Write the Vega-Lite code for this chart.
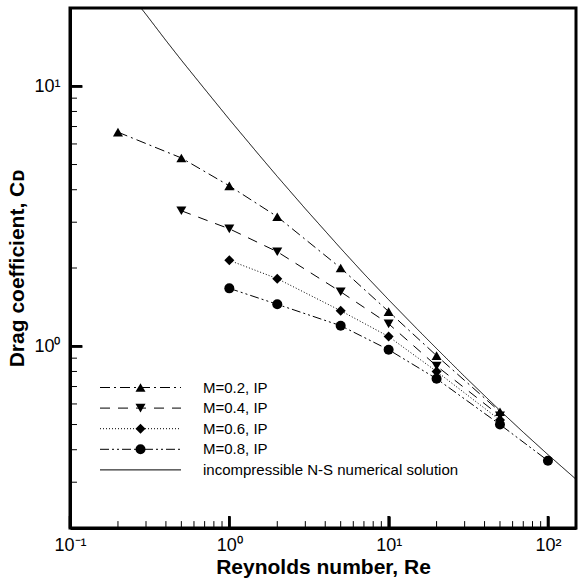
{
  "$schema": "https://vega.github.io/schema/vega-lite/v6.json",
  "width": 506,
  "height": 520,
  "autosize": {"type": "none"},
  "padding": {"left": 70, "top": 8, "right": 2, "bottom": 50},
  "background": "white",
  "config": {
    "view": {"stroke": "black", "strokeWidth": 3},
    "font": "Liberation Sans",
    "axis": {
      "grid": false,
      "domainColor": "black",
      "domainWidth": 3,
      "tickColor": "black",
      "labelColor": "black",
      "titleColor": "black",
      "labelFont": "Liberation Sans",
      "titleFont": "Liberation Sans",
      "labelFontSize": 18,
      "titleFontSize": 21,
      "titleFontWeight": "bold",
      "labelOverlap": false,
      "labelFlush": false
    }
  },
  "datasets": {
    "xticksMajor": [{"v": 0.1}, {"v": 1}, {"v": 10}, {"v": 100}],
    "xticksMinor": [{"v": 0.2}, {"v": 0.3}, {"v": 0.4}, {"v": 0.5}, {"v": 0.6}, {"v": 0.7}, {"v": 0.8}, {"v": 0.9}, {"v": 2}, {"v": 3}, {"v": 4}, {"v": 5}, {"v": 6}, {"v": 7}, {"v": 8}, {"v": 9}, {"v": 20}, {"v": 30}, {"v": 40}, {"v": 50}, {"v": 60}, {"v": 70}, {"v": 80}, {"v": 90}],
    "yticksMajor": [{"v": 1}, {"v": 10}],
    "yticksMinor": [{"v": 0.3}, {"v": 0.4}, {"v": 0.5}, {"v": 0.6}, {"v": 0.7}, {"v": 0.8}, {"v": 0.9}, {"v": 2}, {"v": 3}, {"v": 4}, {"v": 5}, {"v": 6}, {"v": 7}, {"v": 8}, {"v": 9}],
    "drag": [
      {"Re": 0.2, "CD": 6.66, "series": "M=0.2, IP"},
      {"Re": 0.5, "CD": 5.30, "series": "M=0.2, IP"},
      {"Re": 1, "CD": 4.14, "series": "M=0.2, IP"},
      {"Re": 2, "CD": 3.15, "series": "M=0.2, IP"},
      {"Re": 5, "CD": 2.0, "series": "M=0.2, IP"},
      {"Re": 10, "CD": 1.36, "series": "M=0.2, IP"},
      {"Re": 20, "CD": 0.92, "series": "M=0.2, IP"},
      {"Re": 50, "CD": 0.56, "series": "M=0.2, IP"},
      {"Re": 0.5, "CD": 3.32, "series": "M=0.4, IP"},
      {"Re": 1, "CD": 2.83, "series": "M=0.4, IP"},
      {"Re": 2, "CD": 2.31, "series": "M=0.4, IP"},
      {"Re": 5, "CD": 1.62, "series": "M=0.4, IP"},
      {"Re": 10, "CD": 1.22, "series": "M=0.4, IP"},
      {"Re": 20, "CD": 0.84, "series": "M=0.4, IP"},
      {"Re": 50, "CD": 0.54, "series": "M=0.4, IP"},
      {"Re": 1, "CD": 2.14, "series": "M=0.6, IP"},
      {"Re": 2, "CD": 1.82, "series": "M=0.6, IP"},
      {"Re": 5, "CD": 1.37, "series": "M=0.6, IP"},
      {"Re": 10, "CD": 1.09, "series": "M=0.6, IP"},
      {"Re": 20, "CD": 0.80, "series": "M=0.6, IP"},
      {"Re": 50, "CD": 0.52, "series": "M=0.6, IP"},
      {"Re": 1, "CD": 1.67, "series": "M=0.8, IP"},
      {"Re": 2, "CD": 1.45, "series": "M=0.8, IP"},
      {"Re": 5, "CD": 1.20, "series": "M=0.8, IP"},
      {"Re": 10, "CD": 0.97, "series": "M=0.8, IP"},
      {"Re": 20, "CD": 0.75, "series": "M=0.8, IP"},
      {"Re": 50, "CD": 0.50, "series": "M=0.8, IP"},
      {"Re": 100, "CD": 0.363, "series": "M=0.8, IP"},
      {"Re": 0.277, "CD": 20.1, "series": "incompressible N-S numerical solution"},
      {"Re": 0.3, "CD": 18.9, "series": "incompressible N-S numerical solution"},
      {"Re": 0.4, "CD": 15.0, "series": "incompressible N-S numerical solution"},
      {"Re": 0.5, "CD": 12.6, "series": "incompressible N-S numerical solution"},
      {"Re": 0.7, "CD": 9.76, "series": "incompressible N-S numerical solution"},
      {"Re": 1, "CD": 7.46, "series": "incompressible N-S numerical solution"},
      {"Re": 1.5, "CD": 5.54, "series": "incompressible N-S numerical solution"},
      {"Re": 2, "CD": 4.50, "series": "incompressible N-S numerical solution"},
      {"Re": 3, "CD": 3.38, "series": "incompressible N-S numerical solution"},
      {"Re": 5, "CD": 2.38, "series": "incompressible N-S numerical solution"},
      {"Re": 7, "CD": 1.90, "series": "incompressible N-S numerical solution"},
      {"Re": 10, "CD": 1.51, "series": "incompressible N-S numerical solution"},
      {"Re": 15, "CD": 1.17, "series": "incompressible N-S numerical solution"},
      {"Re": 20, "CD": 0.98, "series": "incompressible N-S numerical solution"},
      {"Re": 30, "CD": 0.765, "series": "incompressible N-S numerical solution"},
      {"Re": 50, "CD": 0.566, "series": "incompressible N-S numerical solution"},
      {"Re": 70, "CD": 0.467, "series": "incompressible N-S numerical solution"},
      {"Re": 100, "CD": 0.383, "series": "incompressible N-S numerical solution"},
      {"Re": 150, "CD": 0.308, "series": "incompressible N-S numerical solution"}
    ]
  },
  "layer": [
    {
      "data": {"name": "drag"},
      "mark": {"type": "line", "strokeWidth": 1, "color": "black"},
      "encoding": {
        "x": {
          "field": "Re",
          "type": "quantitative",
          "scale": {"type": "log", "domain": [0.1, 150], "nice": false},
          "axis": {
            "orient": "bottom",
            "title": "Reynolds number, Re",
            "values": [0.1, 1, 10, 100],
            "labelExpr": "datum.value == 0.1 ? '10⁻¹' : datum.value == 1 ? '10⁰' : datum.value == 10 ? '10¹' : '10²'",
            "ticks": true,
            "tickColor": "black",
            "tickSize": -12,
            "tickWidth": 2.5,
            "labelPadding": 20,
            "titlePadding": 2
          }
        },
        "y": {
          "field": "CD",
          "type": "quantitative",
          "scale": {"type": "log", "domain": [0.2, 20], "nice": false},
          "axis": {
            "orient": "left",
            "title": "Drag coefficient, Cᴅ",
            "values": [1, 10],
            "labelExpr": "datum.value == 1 ? '10⁰' : '10¹'",
            "ticks": true,
            "tickColor": "black",
            "tickSize": -12,
            "tickWidth": 2.5,
            "labelPadding": 22,
            "titlePadding": 6
          }
        },
        "strokeDash": {
          "field": "series",
          "type": "nominal",
          "scale": {
            "domain": ["M=0.2, IP", "M=0.4, IP", "M=0.6, IP", "M=0.8, IP", "incompressible N-S numerical solution"],
            "range": [[10, 4, 2, 4], [10, 8], [1, 2], [9, 3, 2, 3, 2, 3], [1, 0]]
          },
          "legend": {
            "title": null,
            "orient": "none",
            "legendX": 0,
            "legendY": 372,
            "padding": 0,
            "symbolType": "M-8.1,0H8.1",
            "symbolSize": 100,
            "symbolStrokeWidth": 1,
            "symbolStrokeColor": "black",
            "symbolOffset": 63,
            "labelOffset": 55,
            "labelFont": "Liberation Sans",
            "labelFontSize": 15,
            "labelColor": "black",
            "labelLimit": 500,
            "rowPadding": 4.6
          }
        }
      }
    },
    {
      "data": {"name": "drag"},
      "transform": [{"filter": "datum.series != 'incompressible N-S numerical solution'"}],
      "mark": {"type": "point", "filled": true, "size": 100, "color": "black", "opacity": 1},
      "encoding": {
        "x": {"field": "Re", "type": "quantitative"},
        "y": {"field": "CD", "type": "quantitative"},
        "shape": {
          "field": "series",
          "type": "nominal",
          "scale": {
            "domain": ["M=0.2, IP", "M=0.4, IP", "M=0.6, IP", "M=0.8, IP"],
            "range": ["triangle-up", "triangle-down", "diamond", "circle"]
          },
          "legend": {
            "title": null,
            "orient": "none",
            "legendX": 0,
            "legendY": 372,
            "padding": 0,
            "symbolSize": 100,
            "symbolStrokeWidth": 1,
            "symbolFillColor": "black",
            "symbolStrokeColor": "black",
            "symbolOffset": 63,
            "labelOffset": 55,
            "labelFont": "Liberation Sans",
            "labelFontSize": 15,
            "labelOpacity": 0,
            "labelLimit": 500,
            "rowPadding": 4.6
          }
        }
      }
    },
    {
      "data": {"name": "xticksMajor"},
      "mark": {"type": "rule", "color": "black", "strokeWidth": 2.5},
      "encoding": {
        "x": {"field": "v", "type": "quantitative"},
        "y": {"datum": 0.2},
        "y2": {"datum": 0.2224}
      }
    },
    {
      "data": {"name": "xticksMinor"},
      "mark": {"type": "rule", "color": "black", "strokeWidth": 1},
      "encoding": {
        "x": {"field": "v", "type": "quantitative"},
        "y": {"datum": 0.2},
        "y2": {"datum": 0.2126}
      }
    },
    {
      "data": {"name": "yticksMajor"},
      "mark": {"type": "rule", "color": "black", "strokeWidth": 2.5},
      "encoding": {
        "y": {"field": "v", "type": "quantitative"},
        "x": {"datum": 0.1},
        "x2": {"datum": 0.1189}
      }
    },
    {
      "data": {"name": "yticksMinor"},
      "mark": {"type": "rule", "color": "black", "strokeWidth": 1},
      "encoding": {
        "y": {"field": "v", "type": "quantitative"},
        "x": {"datum": 0.1},
        "x2": {"datum": 0.1106}
      }
    }
  ]
}
